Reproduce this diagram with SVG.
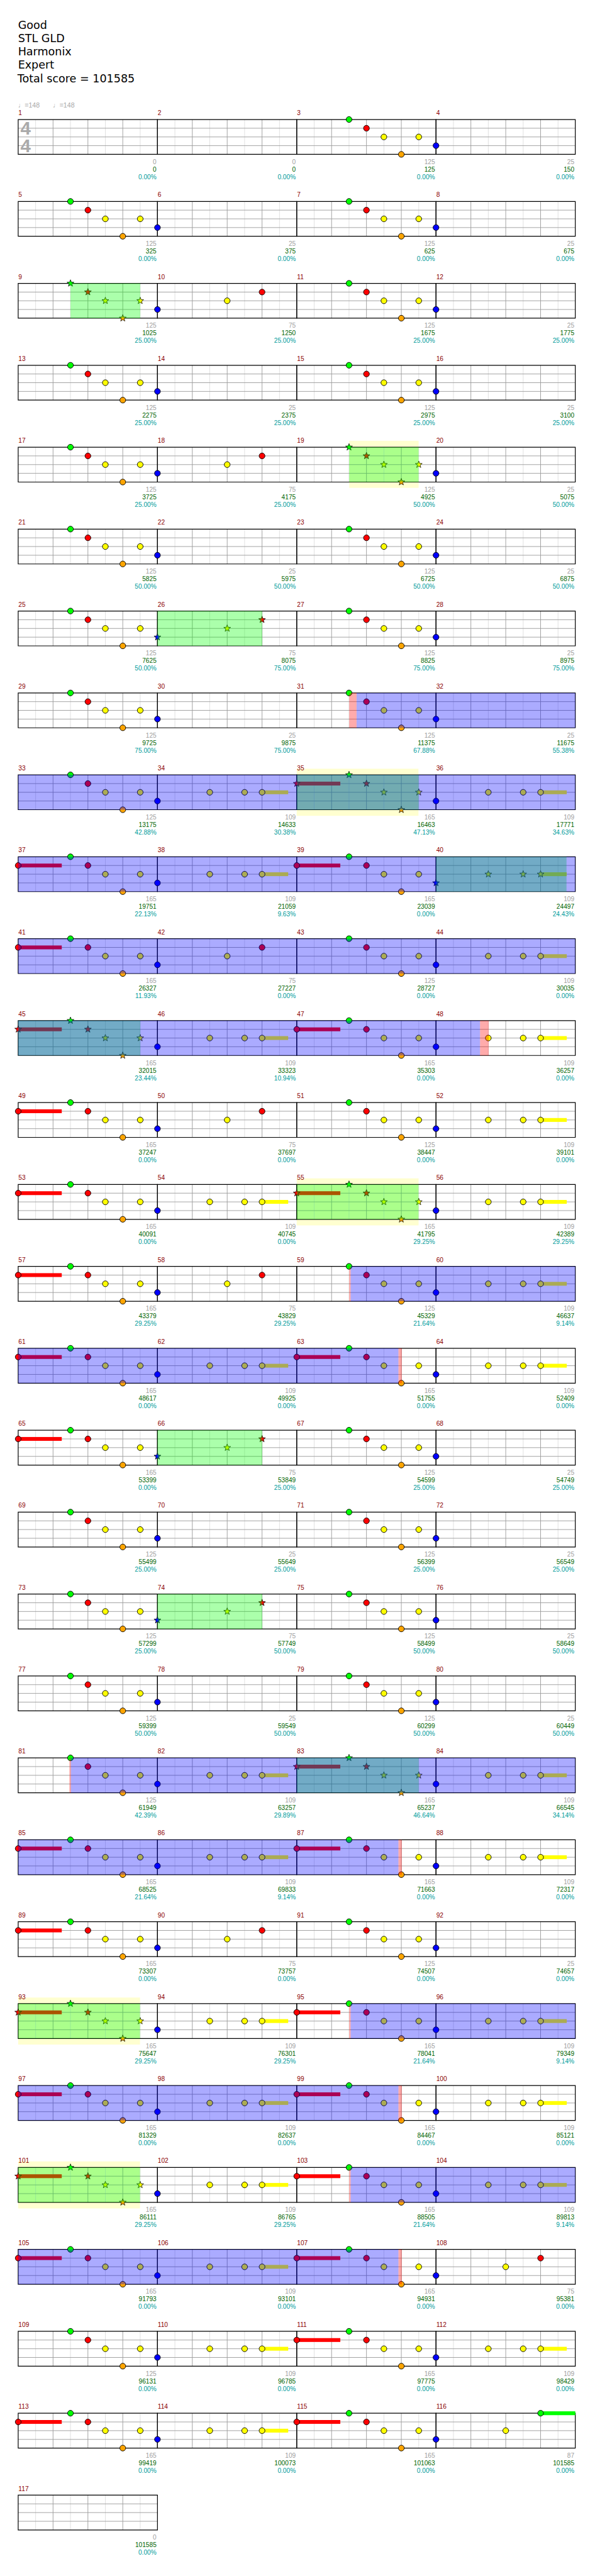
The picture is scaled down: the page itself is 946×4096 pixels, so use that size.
<svg xmlns="http://www.w3.org/2000/svg" width="946" height="4096" viewBox="0 0 946 4096">
<style>
text{font-family:"Liberation Sans",Arial,"DejaVu Sans",sans-serif}
.t{font-family:"DejaVu Sans",sans-serif;font-size:19px;fill:#000}
.tm{font-size:11.5px;fill:#a8a8a8}
.n{font-size:11px;fill:#8b0000}
.a{font-size:11px;fill:#a0a0a0;text-anchor:end}
.b{font-size:11px;fill:#006400;text-anchor:end}
.p{font-size:11px;fill:#009c9c;text-anchor:end}
.G{fill:#00ff00}.R{fill:#ff0000}.Y{fill:#ffff00}.B{fill:#0000ff}.O{fill:#ffa500}
.ov{fill:#0000ff;fill-opacity:.33}
.sp{fill:#00ff00;fill-opacity:.33}
.pk{fill:#ff0000;fill-opacity:.33}
.yb{fill:#ffffd0}
</style>
<defs>
<g id="grid">
<path d="M30 0V60M90 0V60M150 0V60M210 0V60" stroke="#dedede"/>
<path d="M60 0V60M120 0V60M180 0V60M0 15H239.7M0 30H239.7M0 45H239.7" stroke="#9c9c9c"/>
<path d="M0 0H239.7V60H0Z" fill="none" stroke="#000" stroke-width="1.3"/>
</g>
<circle id="c" r="5" stroke="#000"/>
<path id="s" d="M0 -6.2L1.5 -2.1L5.9 -1.9L2.4 0.8L3.6 5L0 2.6L-3.6 5L-2.4 0.8L-5.9 -1.9L-1.5 -2.1Z" stroke="#000" stroke-width=".8"/>
<g id="pA"><use href="#c" class="G" x="90"/><use href="#c" class="R" x="120" y="15"/><use href="#c" class="Y" x="150" y="30"/><use href="#c" class="O" x="180" y="60"/><use href="#c" class="Y" x="210" y="30"/></g>
<g id="pAs"><use href="#s" class="G" x="90"/><use href="#s" class="R" x="120" y="15"/><use href="#s" class="Y" x="150" y="30"/><use href="#s" class="O" x="180" y="60"/><use href="#s" class="Y" x="210" y="30"/></g>
<g id="pB"><use href="#c" class="B" y="45"/></g>
<g id="pBY"><use href="#c" class="B" y="45"/><use href="#c" class="Y" x="90" y="30"/><use href="#c" class="Y" x="150" y="30"/><rect class="Y" x="180" y="26.7" width="45" height="6.6"/><use href="#c" class="Y" x="180" y="30"/></g>
<g id="pRA"><rect class="R" y="11.7" width="75" height="6.6"/><use href="#c" class="R" y="15"/><use href="#pA"/></g>
<g id="pRAs"><rect class="R" y="11.7" width="75" height="6.6"/><use href="#s" class="R" y="15"/><use href="#pAs"/></g>
<g id="pBYR"><use href="#c" class="B" y="45"/><use href="#c" class="Y" x="120" y="30"/><use href="#c" class="R" x="180" y="15"/></g>
<g id="pBYRs"><use href="#s" class="B" y="45"/><use href="#s" class="Y" x="120" y="30"/><use href="#s" class="R" x="180" y="15"/></g>
<g id="pYs"><use href="#s" class="B" y="45"/><use href="#s" class="Y" x="90" y="30"/><use href="#s" class="Y" x="150" y="30"/><rect class="Y" x="180" y="26.7" width="45" height="6.6"/><use href="#s" class="Y" x="180" y="30"/></g>
</defs>
<rect width="946" height="4096" fill="#fff"/>
<g transform="scale(0.9238)">
<g id="header">
<text class="t" x="31" y="49.3">Good</text>
<text class="t" x="31" y="72.3">STL GLD</text>
<text class="t" x="31" y="95.3">Harmonix</text>
<text class="t" x="31" y="118.3">Expert</text>
<text class="t" x="30" y="141.3">Total score = 101585</text>
<text class="tm" x="31" y="185">♩=148</text>
<text class="tm" x="91" y="185">♩=148</text>
</g>

<g id="row0">
<g id="m1" transform="translate(31.3 205.7)"><use href="#grid"/><text x="4" y="26.3" font-size="32" font-weight="bold" fill="#aaa">4</text><text x="4" y="56.3" font-size="32" font-weight="bold" fill="#aaa">4</text><text class="n" x=".5" y="-7.5">1</text><text class="a" x="238" y="76.6">0</text><text class="b" x="238" y="89.6">0</text><text class="p" x="238" y="102.6">0.00%</text></g>
<g id="m2" transform="translate(271 205.7)"><use href="#grid"/><text class="n" x=".5" y="-7.5">2</text><text class="a" x="238" y="76.6">0</text><text class="b" x="238" y="89.6">0</text><text class="p" x="238" y="102.6">0.00%</text></g>
<g id="m3" transform="translate(510.7 205.7)"><use href="#grid"/><use href="#pA"/><text class="n" x=".5" y="-7.5">3</text><text class="a" x="238" y="76.6">125</text><text class="b" x="238" y="89.6">125</text><text class="p" x="238" y="102.6">0.00%</text></g>
<g id="m4" transform="translate(750.4 205.7)"><use href="#grid"/><use href="#pB"/><text class="n" x=".5" y="-7.5">4</text><text class="a" x="238" y="76.6">25</text><text class="b" x="238" y="89.6">150</text><text class="p" x="238" y="102.6">0.00%</text></g>
</g>

<g id="row1">
<g id="m5" transform="translate(31.3 346.7)"><use href="#grid"/><use href="#pA"/><text class="n" x=".5" y="-7.5">5</text><text class="a" x="238" y="76.6">125</text><text class="b" x="238" y="89.6">325</text><text class="p" x="238" y="102.6">0.00%</text></g>
<g id="m6" transform="translate(271 346.7)"><use href="#grid"/><use href="#pB"/><text class="n" x=".5" y="-7.5">6</text><text class="a" x="238" y="76.6">25</text><text class="b" x="238" y="89.6">375</text><text class="p" x="238" y="102.6">0.00%</text></g>
<g id="m7" transform="translate(510.7 346.7)"><use href="#grid"/><use href="#pA"/><text class="n" x=".5" y="-7.5">7</text><text class="a" x="238" y="76.6">125</text><text class="b" x="238" y="89.6">625</text><text class="p" x="238" y="102.6">0.00%</text></g>
<g id="m8" transform="translate(750.4 346.7)"><use href="#grid"/><use href="#pB"/><text class="n" x=".5" y="-7.5">8</text><text class="a" x="238" y="76.6">25</text><text class="b" x="238" y="89.6">675</text><text class="p" x="238" y="102.6">0.00%</text></g>
</g>

<g id="row2">
<g id="m9" transform="translate(31.3 487.7)"><use href="#grid"/><use href="#pAs"/><text class="n" x=".5" y="-7.5">9</text><text class="a" x="238" y="76.6">125</text><text class="b" x="238" y="89.6">1025</text><text class="p" x="238" y="102.6">25.00%</text></g>
<g id="m10" transform="translate(271 487.7)"><use href="#grid"/><use href="#pBYR"/><text class="n" x=".5" y="-7.5">10</text><text class="a" x="238" y="76.6">75</text><text class="b" x="238" y="89.6">1250</text><text class="p" x="238" y="102.6">25.00%</text></g>
<g id="m11" transform="translate(510.7 487.7)"><use href="#grid"/><use href="#pA"/><text class="n" x=".5" y="-7.5">11</text><text class="a" x="238" y="76.6">125</text><text class="b" x="238" y="89.6">1675</text><text class="p" x="238" y="102.6">25.00%</text></g>
<g id="m12" transform="translate(750.4 487.7)"><use href="#grid"/><use href="#pB"/><text class="n" x=".5" y="-7.5">12</text><text class="a" x="238" y="76.6">25</text><text class="b" x="238" y="89.6">1775</text><text class="p" x="238" y="102.6">25.00%</text></g>
<rect class="sp" x="121.3" y="487.7" width="120" height="60"/>
</g>

<g id="row3">
<g id="m13" transform="translate(31.3 628.7)"><use href="#grid"/><use href="#pA"/><text class="n" x=".5" y="-7.5">13</text><text class="a" x="238" y="76.6">125</text><text class="b" x="238" y="89.6">2275</text><text class="p" x="238" y="102.6">25.00%</text></g>
<g id="m14" transform="translate(271 628.7)"><use href="#grid"/><use href="#pB"/><text class="n" x=".5" y="-7.5">14</text><text class="a" x="238" y="76.6">25</text><text class="b" x="238" y="89.6">2375</text><text class="p" x="238" y="102.6">25.00%</text></g>
<g id="m15" transform="translate(510.7 628.7)"><use href="#grid"/><use href="#pA"/><text class="n" x=".5" y="-7.5">15</text><text class="a" x="238" y="76.6">125</text><text class="b" x="238" y="89.6">2975</text><text class="p" x="238" y="102.6">25.00%</text></g>
<g id="m16" transform="translate(750.4 628.7)"><use href="#grid"/><use href="#pB"/><text class="n" x=".5" y="-7.5">16</text><text class="a" x="238" y="76.6">25</text><text class="b" x="238" y="89.6">3100</text><text class="p" x="238" y="102.6">25.00%</text></g>
</g>

<g id="row4">
<rect class="yb" x="601" y="758.7" width="119.5" height="81"/>
<g id="m17" transform="translate(31.3 769.7)"><use href="#grid"/><use href="#pA"/><text class="n" x=".5" y="-7.5">17</text><text class="a" x="238" y="76.6">125</text><text class="b" x="238" y="89.6">3725</text><text class="p" x="238" y="102.6">25.00%</text></g>
<g id="m18" transform="translate(271 769.7)"><use href="#grid"/><use href="#pBYR"/><text class="n" x=".5" y="-7.5">18</text><text class="a" x="238" y="76.6">75</text><text class="b" x="238" y="89.6">4175</text><text class="p" x="238" y="102.6">25.00%</text></g>
<g id="m19" transform="translate(510.7 769.7)"><use href="#grid"/><use href="#pAs"/><text class="n" x=".5" y="-7.5">19</text><text class="a" x="238" y="76.6">125</text><text class="b" x="238" y="89.6">4925</text><text class="p" x="238" y="102.6">50.00%</text></g>
<g id="m20" transform="translate(750.4 769.7)"><use href="#grid"/><use href="#pB"/><text class="n" x=".5" y="-7.5">20</text><text class="a" x="238" y="76.6">25</text><text class="b" x="238" y="89.6">5075</text><text class="p" x="238" y="102.6">50.00%</text></g>
<rect class="sp" x="601" y="769.7" width="119.5" height="60"/>
</g>

<g id="row5">
<g id="m21" transform="translate(31.3 910.7)"><use href="#grid"/><use href="#pA"/><text class="n" x=".5" y="-7.5">21</text><text class="a" x="238" y="76.6">125</text><text class="b" x="238" y="89.6">5825</text><text class="p" x="238" y="102.6">50.00%</text></g>
<g id="m22" transform="translate(271 910.7)"><use href="#grid"/><use href="#pB"/><text class="n" x=".5" y="-7.5">22</text><text class="a" x="238" y="76.6">25</text><text class="b" x="238" y="89.6">5975</text><text class="p" x="238" y="102.6">50.00%</text></g>
<g id="m23" transform="translate(510.7 910.7)"><use href="#grid"/><use href="#pA"/><text class="n" x=".5" y="-7.5">23</text><text class="a" x="238" y="76.6">125</text><text class="b" x="238" y="89.6">6725</text><text class="p" x="238" y="102.6">50.00%</text></g>
<g id="m24" transform="translate(750.4 910.7)"><use href="#grid"/><use href="#pB"/><text class="n" x=".5" y="-7.5">24</text><text class="a" x="238" y="76.6">25</text><text class="b" x="238" y="89.6">6875</text><text class="p" x="238" y="102.6">50.00%</text></g>
</g>

<g id="row6">
<g id="m25" transform="translate(31.3 1051.7)"><use href="#grid"/><use href="#pA"/><text class="n" x=".5" y="-7.5">25</text><text class="a" x="238" y="76.6">125</text><text class="b" x="238" y="89.6">7625</text><text class="p" x="238" y="102.6">50.00%</text></g>
<g id="m26" transform="translate(271 1051.7)"><use href="#grid"/><use href="#pBYRs"/><text class="n" x=".5" y="-7.5">26</text><text class="a" x="238" y="76.6">75</text><text class="b" x="238" y="89.6">8075</text><text class="p" x="238" y="102.6">75.00%</text></g>
<g id="m27" transform="translate(510.7 1051.7)"><use href="#grid"/><use href="#pA"/><text class="n" x=".5" y="-7.5">27</text><text class="a" x="238" y="76.6">125</text><text class="b" x="238" y="89.6">8825</text><text class="p" x="238" y="102.6">75.00%</text></g>
<g id="m28" transform="translate(750.4 1051.7)"><use href="#grid"/><use href="#pB"/><text class="n" x=".5" y="-7.5">28</text><text class="a" x="238" y="76.6">25</text><text class="b" x="238" y="89.6">8975</text><text class="p" x="238" y="102.6">75.00%</text></g>
<rect class="sp" x="271" y="1051.7" width="180.3" height="60"/>
</g>

<g id="row7">
<g id="m29" transform="translate(31.3 1192.7)"><use href="#grid"/><use href="#pA"/><text class="n" x=".5" y="-7.5">29</text><text class="a" x="238" y="76.6">125</text><text class="b" x="238" y="89.6">9725</text><text class="p" x="238" y="102.6">75.00%</text></g>
<g id="m30" transform="translate(271 1192.7)"><use href="#grid"/><use href="#pB"/><text class="n" x=".5" y="-7.5">30</text><text class="a" x="238" y="76.6">25</text><text class="b" x="238" y="89.6">9875</text><text class="p" x="238" y="102.6">75.00%</text></g>
<g id="m31" transform="translate(510.7 1192.7)"><use href="#grid"/><use href="#pA"/><text class="n" x=".5" y="-7.5">31</text><text class="a" x="238" y="76.6">125</text><text class="b" x="238" y="89.6">11375</text><text class="p" x="238" y="102.6">67.88%</text></g>
<g id="m32" transform="translate(750.4 1192.7)"><use href="#grid"/><use href="#pB"/><text class="n" x=".5" y="-7.5">32</text><text class="a" x="238" y="76.6">25</text><text class="b" x="238" y="89.6">11675</text><text class="p" x="238" y="102.6">55.38%</text></g>
<rect class="pk" x="601" y="1192.7" width="12.7" height="60"/>
<rect class="ov" x="613.7" y="1192.7" width="376.4" height="60"/>
</g>

<g id="row8">
<rect class="yb" x="510.7" y="1323.2" width="209.5" height="81"/>
<g id="m33" transform="translate(31.3 1333.7)"><use href="#grid"/><use href="#pA"/><text class="n" x=".5" y="-7.5">33</text><text class="a" x="238" y="76.6">125</text><text class="b" x="238" y="89.6">13175</text><text class="p" x="238" y="102.6">42.88%</text></g>
<g id="m34" transform="translate(271 1333.7)"><use href="#grid"/><use href="#pBY"/><text class="n" x=".5" y="-7.5">34</text><text class="a" x="238" y="76.6">109</text><text class="b" x="238" y="89.6">14633</text><text class="p" x="238" y="102.6">30.38%</text></g>
<g id="m35" transform="translate(510.7 1333.7)"><use href="#grid"/><use href="#pRAs"/><text class="n" x=".5" y="-7.5">35</text><text class="a" x="238" y="76.6">165</text><text class="b" x="238" y="89.6">16463</text><text class="p" x="238" y="102.6">47.13%</text></g>
<g id="m36" transform="translate(750.4 1333.7)"><use href="#grid"/><use href="#pBY"/><text class="n" x=".5" y="-7.5">36</text><text class="a" x="238" y="76.6">109</text><text class="b" x="238" y="89.6">17771</text><text class="p" x="238" y="102.6">34.63%</text></g>
<rect class="sp" x="510.7" y="1333.7" width="210" height="60"/>
<rect class="ov" x="31.3" y="1333.7" width="958.8" height="60"/>
</g>

<g id="row9">
<g id="m37" transform="translate(31.3 1474.7)"><use href="#grid"/><use href="#pRA"/><text class="n" x=".5" y="-7.5">37</text><text class="a" x="238" y="76.6">165</text><text class="b" x="238" y="89.6">19751</text><text class="p" x="238" y="102.6">22.13%</text></g>
<g id="m38" transform="translate(271 1474.7)"><use href="#grid"/><use href="#pBY"/><text class="n" x=".5" y="-7.5">38</text><text class="a" x="238" y="76.6">109</text><text class="b" x="238" y="89.6">21059</text><text class="p" x="238" y="102.6">9.63%</text></g>
<g id="m39" transform="translate(510.7 1474.7)"><use href="#grid"/><use href="#pRA"/><text class="n" x=".5" y="-7.5">39</text><text class="a" x="238" y="76.6">165</text><text class="b" x="238" y="89.6">23039</text><text class="p" x="238" y="102.6">0.00%</text></g>
<g id="m40" transform="translate(750.4 1474.7)"><use href="#grid"/><use href="#pYs"/><text class="n" x=".5" y="-7.5">40</text><text class="a" x="238" y="76.6">109</text><text class="b" x="238" y="89.6">24497</text><text class="p" x="238" y="102.6">24.43%</text></g>
<rect class="sp" x="750.4" y="1474.7" width="224.6" height="60"/>
<rect class="ov" x="31.3" y="1474.7" width="958.8" height="60"/>
</g>

<g id="row10">
<g id="m41" transform="translate(31.3 1615.7)"><use href="#grid"/><use href="#pRA"/><text class="n" x=".5" y="-7.5">41</text><text class="a" x="238" y="76.6">165</text><text class="b" x="238" y="89.6">26327</text><text class="p" x="238" y="102.6">11.93%</text></g>
<g id="m42" transform="translate(271 1615.7)"><use href="#grid"/><use href="#pBYR"/><text class="n" x=".5" y="-7.5">42</text><text class="a" x="238" y="76.6">75</text><text class="b" x="238" y="89.6">27227</text><text class="p" x="238" y="102.6">0.00%</text></g>
<g id="m43" transform="translate(510.7 1615.7)"><use href="#grid"/><use href="#pA"/><text class="n" x=".5" y="-7.5">43</text><text class="a" x="238" y="76.6">125</text><text class="b" x="238" y="89.6">28727</text><text class="p" x="238" y="102.6">0.00%</text></g>
<g id="m44" transform="translate(750.4 1615.7)"><use href="#grid"/><use href="#pBY"/><text class="n" x=".5" y="-7.5">44</text><text class="a" x="238" y="76.6">109</text><text class="b" x="238" y="89.6">30035</text><text class="p" x="238" y="102.6">0.00%</text></g>
<rect class="ov" x="31.3" y="1615.7" width="958.8" height="60"/>
</g>

<g id="row11">
<g id="m45" transform="translate(31.3 1756.7)"><use href="#grid"/><use href="#pRAs"/><text class="n" x=".5" y="-7.5">45</text><text class="a" x="238" y="76.6">165</text><text class="b" x="238" y="89.6">32015</text><text class="p" x="238" y="102.6">23.44%</text></g>
<g id="m46" transform="translate(271 1756.7)"><use href="#grid"/><use href="#pBY"/><text class="n" x=".5" y="-7.5">46</text><text class="a" x="238" y="76.6">109</text><text class="b" x="238" y="89.6">33323</text><text class="p" x="238" y="102.6">10.94%</text></g>
<g id="m47" transform="translate(510.7 1756.7)"><use href="#grid"/><use href="#pRA"/><text class="n" x=".5" y="-7.5">47</text><text class="a" x="238" y="76.6">165</text><text class="b" x="238" y="89.6">35303</text><text class="p" x="238" y="102.6">0.00%</text></g>
<g id="m48" transform="translate(750.4 1756.7)"><use href="#grid"/><use href="#pBY"/><text class="n" x=".5" y="-7.5">48</text><text class="a" x="238" y="76.6">109</text><text class="b" x="238" y="89.6">36257</text><text class="p" x="238" y="102.6">0.00%</text></g>
<rect class="sp" x="31.3" y="1756.7" width="210.2" height="60"/>
<rect class="ov" x="31.3" y="1756.7" width="794.9" height="60"/>
<rect class="pk" x="826.2" y="1756.7" width="15" height="60"/>
</g>

<g id="row12">
<g id="m49" transform="translate(31.3 1897.7)"><use href="#grid"/><use href="#pRA"/><text class="n" x=".5" y="-7.5">49</text><text class="a" x="238" y="76.6">165</text><text class="b" x="238" y="89.6">37247</text><text class="p" x="238" y="102.6">0.00%</text></g>
<g id="m50" transform="translate(271 1897.7)"><use href="#grid"/><use href="#pBYR"/><text class="n" x=".5" y="-7.5">50</text><text class="a" x="238" y="76.6">75</text><text class="b" x="238" y="89.6">37697</text><text class="p" x="238" y="102.6">0.00%</text></g>
<g id="m51" transform="translate(510.7 1897.7)"><use href="#grid"/><use href="#pA"/><text class="n" x=".5" y="-7.5">51</text><text class="a" x="238" y="76.6">125</text><text class="b" x="238" y="89.6">38447</text><text class="p" x="238" y="102.6">0.00%</text></g>
<g id="m52" transform="translate(750.4 1897.7)"><use href="#grid"/><use href="#pBY"/><text class="n" x=".5" y="-7.5">52</text><text class="a" x="238" y="76.6">109</text><text class="b" x="238" y="89.6">39101</text><text class="p" x="238" y="102.6">0.00%</text></g>
</g>

<g id="row13">
<rect class="yb" x="510.7" y="2028.2" width="209.7" height="81"/>
<g id="m53" transform="translate(31.3 2038.7)"><use href="#grid"/><use href="#pRA"/><text class="n" x=".5" y="-7.5">53</text><text class="a" x="238" y="76.6">165</text><text class="b" x="238" y="89.6">40091</text><text class="p" x="238" y="102.6">0.00%</text></g>
<g id="m54" transform="translate(271 2038.7)"><use href="#grid"/><use href="#pBY"/><text class="n" x=".5" y="-7.5">54</text><text class="a" x="238" y="76.6">109</text><text class="b" x="238" y="89.6">40745</text><text class="p" x="238" y="102.6">0.00%</text></g>
<g id="m55" transform="translate(510.7 2038.7)"><use href="#grid"/><use href="#pRAs"/><text class="n" x=".5" y="-7.5">55</text><text class="a" x="238" y="76.6">165</text><text class="b" x="238" y="89.6">41795</text><text class="p" x="238" y="102.6">29.25%</text></g>
<g id="m56" transform="translate(750.4 2038.7)"><use href="#grid"/><use href="#pBY"/><text class="n" x=".5" y="-7.5">56</text><text class="a" x="238" y="76.6">109</text><text class="b" x="238" y="89.6">42389</text><text class="p" x="238" y="102.6">29.25%</text></g>
<rect class="sp" x="510.7" y="2038.7" width="209.7" height="60"/>
</g>

<g id="row14">
<g id="m57" transform="translate(31.3 2179.7)"><use href="#grid"/><use href="#pRA"/><text class="n" x=".5" y="-7.5">57</text><text class="a" x="238" y="76.6">165</text><text class="b" x="238" y="89.6">43379</text><text class="p" x="238" y="102.6">29.25%</text></g>
<g id="m58" transform="translate(271 2179.7)"><use href="#grid"/><use href="#pBYR"/><text class="n" x=".5" y="-7.5">58</text><text class="a" x="238" y="76.6">75</text><text class="b" x="238" y="89.6">43829</text><text class="p" x="238" y="102.6">29.25%</text></g>
<g id="m59" transform="translate(510.7 2179.7)"><use href="#grid"/><use href="#pA"/><text class="n" x=".5" y="-7.5">59</text><text class="a" x="238" y="76.6">125</text><text class="b" x="238" y="89.6">45329</text><text class="p" x="238" y="102.6">21.64%</text></g>
<g id="m60" transform="translate(750.4 2179.7)"><use href="#grid"/><use href="#pBY"/><text class="n" x=".5" y="-7.5">60</text><text class="a" x="238" y="76.6">109</text><text class="b" x="238" y="89.6">46637</text><text class="p" x="238" y="102.6">9.14%</text></g>
<rect class="pk" x="601" y="2179.7" width="2.5" height="60"/>
<rect class="ov" x="603.5" y="2179.7" width="386.6" height="60"/>
</g>

<g id="row15">
<g id="m61" transform="translate(31.3 2320.7)"><use href="#grid"/><use href="#pRA"/><text class="n" x=".5" y="-7.5">61</text><text class="a" x="238" y="76.6">165</text><text class="b" x="238" y="89.6">48617</text><text class="p" x="238" y="102.6">0.00%</text></g>
<g id="m62" transform="translate(271 2320.7)"><use href="#grid"/><use href="#pBY"/><text class="n" x=".5" y="-7.5">62</text><text class="a" x="238" y="76.6">109</text><text class="b" x="238" y="89.6">49925</text><text class="p" x="238" y="102.6">0.00%</text></g>
<g id="m63" transform="translate(510.7 2320.7)"><use href="#grid"/><use href="#pRA"/><text class="n" x=".5" y="-7.5">63</text><text class="a" x="238" y="76.6">165</text><text class="b" x="238" y="89.6">51755</text><text class="p" x="238" y="102.6">0.00%</text></g>
<g id="m64" transform="translate(750.4 2320.7)"><use href="#grid"/><use href="#pBY"/><text class="n" x=".5" y="-7.5">64</text><text class="a" x="238" y="76.6">109</text><text class="b" x="238" y="89.6">52409</text><text class="p" x="238" y="102.6">0.00%</text></g>
<rect class="ov" x="31.3" y="2320.7" width="654.5" height="60"/>
<rect class="pk" x="685.8" y="2320.7" width="5.9" height="60"/>
</g>

<g id="row16">
<g id="m65" transform="translate(31.3 2461.7)"><use href="#grid"/><use href="#pRA"/><text class="n" x=".5" y="-7.5">65</text><text class="a" x="238" y="76.6">165</text><text class="b" x="238" y="89.6">53399</text><text class="p" x="238" y="102.6">0.00%</text></g>
<g id="m66" transform="translate(271 2461.7)"><use href="#grid"/><use href="#pBYRs"/><text class="n" x=".5" y="-7.5">66</text><text class="a" x="238" y="76.6">75</text><text class="b" x="238" y="89.6">53849</text><text class="p" x="238" y="102.6">25.00%</text></g>
<g id="m67" transform="translate(510.7 2461.7)"><use href="#grid"/><use href="#pA"/><text class="n" x=".5" y="-7.5">67</text><text class="a" x="238" y="76.6">125</text><text class="b" x="238" y="89.6">54599</text><text class="p" x="238" y="102.6">25.00%</text></g>
<g id="m68" transform="translate(750.4 2461.7)"><use href="#grid"/><use href="#pB"/><text class="n" x=".5" y="-7.5">68</text><text class="a" x="238" y="76.6">25</text><text class="b" x="238" y="89.6">54749</text><text class="p" x="238" y="102.6">25.00%</text></g>
<rect class="sp" x="271" y="2461.7" width="180.3" height="60"/>
</g>

<g id="row17">
<g id="m69" transform="translate(31.3 2602.7)"><use href="#grid"/><use href="#pA"/><text class="n" x=".5" y="-7.5">69</text><text class="a" x="238" y="76.6">125</text><text class="b" x="238" y="89.6">55499</text><text class="p" x="238" y="102.6">25.00%</text></g>
<g id="m70" transform="translate(271 2602.7)"><use href="#grid"/><use href="#pB"/><text class="n" x=".5" y="-7.5">70</text><text class="a" x="238" y="76.6">25</text><text class="b" x="238" y="89.6">55649</text><text class="p" x="238" y="102.6">25.00%</text></g>
<g id="m71" transform="translate(510.7 2602.7)"><use href="#grid"/><use href="#pA"/><text class="n" x=".5" y="-7.5">71</text><text class="a" x="238" y="76.6">125</text><text class="b" x="238" y="89.6">56399</text><text class="p" x="238" y="102.6">25.00%</text></g>
<g id="m72" transform="translate(750.4 2602.7)"><use href="#grid"/><use href="#pB"/><text class="n" x=".5" y="-7.5">72</text><text class="a" x="238" y="76.6">25</text><text class="b" x="238" y="89.6">56549</text><text class="p" x="238" y="102.6">25.00%</text></g>
</g>

<g id="row18">
<g id="m73" transform="translate(31.3 2743.7)"><use href="#grid"/><use href="#pA"/><text class="n" x=".5" y="-7.5">73</text><text class="a" x="238" y="76.6">125</text><text class="b" x="238" y="89.6">57299</text><text class="p" x="238" y="102.6">25.00%</text></g>
<g id="m74" transform="translate(271 2743.7)"><use href="#grid"/><use href="#pBYRs"/><text class="n" x=".5" y="-7.5">74</text><text class="a" x="238" y="76.6">75</text><text class="b" x="238" y="89.6">57749</text><text class="p" x="238" y="102.6">50.00%</text></g>
<g id="m75" transform="translate(510.7 2743.7)"><use href="#grid"/><use href="#pA"/><text class="n" x=".5" y="-7.5">75</text><text class="a" x="238" y="76.6">125</text><text class="b" x="238" y="89.6">58499</text><text class="p" x="238" y="102.6">50.00%</text></g>
<g id="m76" transform="translate(750.4 2743.7)"><use href="#grid"/><use href="#pB"/><text class="n" x=".5" y="-7.5">76</text><text class="a" x="238" y="76.6">25</text><text class="b" x="238" y="89.6">58649</text><text class="p" x="238" y="102.6">50.00%</text></g>
<rect class="sp" x="271" y="2743.7" width="180.3" height="60"/>
</g>

<g id="row19">
<g id="m77" transform="translate(31.3 2884.7)"><use href="#grid"/><use href="#pA"/><text class="n" x=".5" y="-7.5">77</text><text class="a" x="238" y="76.6">125</text><text class="b" x="238" y="89.6">59399</text><text class="p" x="238" y="102.6">50.00%</text></g>
<g id="m78" transform="translate(271 2884.7)"><use href="#grid"/><use href="#pB"/><text class="n" x=".5" y="-7.5">78</text><text class="a" x="238" y="76.6">25</text><text class="b" x="238" y="89.6">59549</text><text class="p" x="238" y="102.6">50.00%</text></g>
<g id="m79" transform="translate(510.7 2884.7)"><use href="#grid"/><use href="#pA"/><text class="n" x=".5" y="-7.5">79</text><text class="a" x="238" y="76.6">125</text><text class="b" x="238" y="89.6">60299</text><text class="p" x="238" y="102.6">50.00%</text></g>
<g id="m80" transform="translate(750.4 2884.7)"><use href="#grid"/><use href="#pB"/><text class="n" x=".5" y="-7.5">80</text><text class="a" x="238" y="76.6">25</text><text class="b" x="238" y="89.6">60449</text><text class="p" x="238" y="102.6">50.00%</text></g>
</g>

<g id="row20">
<g id="m81" transform="translate(31.3 3025.7)"><use href="#grid"/><use href="#pA"/><text class="n" x=".5" y="-7.5">81</text><text class="a" x="238" y="76.6">125</text><text class="b" x="238" y="89.6">61949</text><text class="p" x="238" y="102.6">42.39%</text></g>
<g id="m82" transform="translate(271 3025.7)"><use href="#grid"/><use href="#pBY"/><text class="n" x=".5" y="-7.5">82</text><text class="a" x="238" y="76.6">109</text><text class="b" x="238" y="89.6">63257</text><text class="p" x="238" y="102.6">29.89%</text></g>
<g id="m83" transform="translate(510.7 3025.7)"><use href="#grid"/><use href="#pRAs"/><text class="n" x=".5" y="-7.5">83</text><text class="a" x="238" y="76.6">165</text><text class="b" x="238" y="89.6">65237</text><text class="p" x="238" y="102.6">46.64%</text></g>
<g id="m84" transform="translate(750.4 3025.7)"><use href="#grid"/><use href="#pBY"/><text class="n" x=".5" y="-7.5">84</text><text class="a" x="238" y="76.6">109</text><text class="b" x="238" y="89.6">66545</text><text class="p" x="238" y="102.6">34.14%</text></g>
<rect class="sp" x="510.7" y="3025.7" width="210" height="60"/>
<rect class="pk" x="119.5" y="3025.7" width="2.5" height="60"/>
<rect class="ov" x="122" y="3025.7" width="868.1" height="60"/>
</g>

<g id="row21">
<g id="m85" transform="translate(31.3 3166.7)"><use href="#grid"/><use href="#pRA"/><text class="n" x=".5" y="-7.5">85</text><text class="a" x="238" y="76.6">165</text><text class="b" x="238" y="89.6">68525</text><text class="p" x="238" y="102.6">21.64%</text></g>
<g id="m86" transform="translate(271 3166.7)"><use href="#grid"/><use href="#pBY"/><text class="n" x=".5" y="-7.5">86</text><text class="a" x="238" y="76.6">109</text><text class="b" x="238" y="89.6">69833</text><text class="p" x="238" y="102.6">9.14%</text></g>
<g id="m87" transform="translate(510.7 3166.7)"><use href="#grid"/><use href="#pRA"/><text class="n" x=".5" y="-7.5">87</text><text class="a" x="238" y="76.6">165</text><text class="b" x="238" y="89.6">71663</text><text class="p" x="238" y="102.6">0.00%</text></g>
<g id="m88" transform="translate(750.4 3166.7)"><use href="#grid"/><use href="#pBY"/><text class="n" x=".5" y="-7.5">88</text><text class="a" x="238" y="76.6">109</text><text class="b" x="238" y="89.6">72317</text><text class="p" x="238" y="102.6">0.00%</text></g>
<rect class="ov" x="31.3" y="3166.7" width="654.5" height="60"/>
<rect class="pk" x="685.8" y="3166.7" width="5.9" height="60"/>
</g>

<g id="row22">
<g id="m89" transform="translate(31.3 3307.7)"><use href="#grid"/><use href="#pRA"/><text class="n" x=".5" y="-7.5">89</text><text class="a" x="238" y="76.6">165</text><text class="b" x="238" y="89.6">73307</text><text class="p" x="238" y="102.6">0.00%</text></g>
<g id="m90" transform="translate(271 3307.7)"><use href="#grid"/><use href="#pBYR"/><text class="n" x=".5" y="-7.5">90</text><text class="a" x="238" y="76.6">75</text><text class="b" x="238" y="89.6">73757</text><text class="p" x="238" y="102.6">0.00%</text></g>
<g id="m91" transform="translate(510.7 3307.7)"><use href="#grid"/><use href="#pA"/><text class="n" x=".5" y="-7.5">91</text><text class="a" x="238" y="76.6">125</text><text class="b" x="238" y="89.6">74507</text><text class="p" x="238" y="102.6">0.00%</text></g>
<g id="m92" transform="translate(750.4 3307.7)"><use href="#grid"/><use href="#pB"/><text class="n" x=".5" y="-7.5">92</text><text class="a" x="238" y="76.6">25</text><text class="b" x="238" y="89.6">74657</text><text class="p" x="238" y="102.6">0.00%</text></g>
</g>

<g id="row23">
<rect class="yb" x="31.3" y="3438.2" width="209.7" height="81"/>
<g id="m93" transform="translate(31.3 3448.7)"><use href="#grid"/><use href="#pRAs"/><text class="n" x=".5" y="-7.5">93</text><text class="a" x="238" y="76.6">165</text><text class="b" x="238" y="89.6">75647</text><text class="p" x="238" y="102.6">29.25%</text></g>
<g id="m94" transform="translate(271 3448.7)"><use href="#grid"/><use href="#pBY"/><text class="n" x=".5" y="-7.5">94</text><text class="a" x="238" y="76.6">109</text><text class="b" x="238" y="89.6">76301</text><text class="p" x="238" y="102.6">29.25%</text></g>
<g id="m95" transform="translate(510.7 3448.7)"><use href="#grid"/><use href="#pRA"/><text class="n" x=".5" y="-7.5">95</text><text class="a" x="238" y="76.6">165</text><text class="b" x="238" y="89.6">78041</text><text class="p" x="238" y="102.6">21.64%</text></g>
<g id="m96" transform="translate(750.4 3448.7)"><use href="#grid"/><use href="#pBY"/><text class="n" x=".5" y="-7.5">96</text><text class="a" x="238" y="76.6">109</text><text class="b" x="238" y="89.6">79349</text><text class="p" x="238" y="102.6">9.14%</text></g>
<rect class="sp" x="31.3" y="3448.7" width="209.7" height="60"/>
<rect class="pk" x="601" y="3448.7" width="2.5" height="60"/>
<rect class="ov" x="603.5" y="3448.7" width="386.6" height="60"/>
</g>

<g id="row24">
<g id="m97" transform="translate(31.3 3589.7)"><use href="#grid"/><use href="#pRA"/><text class="n" x=".5" y="-7.5">97</text><text class="a" x="238" y="76.6">165</text><text class="b" x="238" y="89.6">81329</text><text class="p" x="238" y="102.6">0.00%</text></g>
<g id="m98" transform="translate(271 3589.7)"><use href="#grid"/><use href="#pBY"/><text class="n" x=".5" y="-7.5">98</text><text class="a" x="238" y="76.6">109</text><text class="b" x="238" y="89.6">82637</text><text class="p" x="238" y="102.6">0.00%</text></g>
<g id="m99" transform="translate(510.7 3589.7)"><use href="#grid"/><use href="#pRA"/><text class="n" x=".5" y="-7.5">99</text><text class="a" x="238" y="76.6">165</text><text class="b" x="238" y="89.6">84467</text><text class="p" x="238" y="102.6">0.00%</text></g>
<g id="m100" transform="translate(750.4 3589.7)"><use href="#grid"/><use href="#pBY"/><text class="n" x=".5" y="-7.5">100</text><text class="a" x="238" y="76.6">109</text><text class="b" x="238" y="89.6">85121</text><text class="p" x="238" y="102.6">0.00%</text></g>
<rect class="ov" x="31.3" y="3589.7" width="654.5" height="60"/>
<rect class="pk" x="685.8" y="3589.7" width="5.9" height="60"/>
</g>

<g id="row25">
<rect class="yb" x="31.3" y="3720.2" width="209.7" height="81"/>
<g id="m101" transform="translate(31.3 3730.7)"><use href="#grid"/><use href="#pRAs"/><text class="n" x=".5" y="-7.5">101</text><text class="a" x="238" y="76.6">165</text><text class="b" x="238" y="89.6">86111</text><text class="p" x="238" y="102.6">29.25%</text></g>
<g id="m102" transform="translate(271 3730.7)"><use href="#grid"/><use href="#pBY"/><text class="n" x=".5" y="-7.5">102</text><text class="a" x="238" y="76.6">109</text><text class="b" x="238" y="89.6">86765</text><text class="p" x="238" y="102.6">29.25%</text></g>
<g id="m103" transform="translate(510.7 3730.7)"><use href="#grid"/><use href="#pRA"/><text class="n" x=".5" y="-7.5">103</text><text class="a" x="238" y="76.6">165</text><text class="b" x="238" y="89.6">88505</text><text class="p" x="238" y="102.6">21.64%</text></g>
<g id="m104" transform="translate(750.4 3730.7)"><use href="#grid"/><use href="#pBY"/><text class="n" x=".5" y="-7.5">104</text><text class="a" x="238" y="76.6">109</text><text class="b" x="238" y="89.6">89813</text><text class="p" x="238" y="102.6">9.14%</text></g>
<rect class="sp" x="31.3" y="3730.7" width="209.7" height="60"/>
<rect class="pk" x="601" y="3730.7" width="2.5" height="60"/>
<rect class="ov" x="603.5" y="3730.7" width="386.6" height="60"/>
</g>

<g id="row26">
<g id="m105" transform="translate(31.3 3871.7)"><use href="#grid"/><use href="#pRA"/><text class="n" x=".5" y="-7.5">105</text><text class="a" x="238" y="76.6">165</text><text class="b" x="238" y="89.6">91793</text><text class="p" x="238" y="102.6">0.00%</text></g>
<g id="m106" transform="translate(271 3871.7)"><use href="#grid"/><use href="#pBY"/><text class="n" x=".5" y="-7.5">106</text><text class="a" x="238" y="76.6">109</text><text class="b" x="238" y="89.6">93101</text><text class="p" x="238" y="102.6">0.00%</text></g>
<g id="m107" transform="translate(510.7 3871.7)"><use href="#grid"/><use href="#pRA"/><text class="n" x=".5" y="-7.5">107</text><text class="a" x="238" y="76.6">165</text><text class="b" x="238" y="89.6">94931</text><text class="p" x="238" y="102.6">0.00%</text></g>
<g id="m108" transform="translate(750.4 3871.7)"><use href="#grid"/><use href="#pBYR"/><text class="n" x=".5" y="-7.5">108</text><text class="a" x="238" y="76.6">75</text><text class="b" x="238" y="89.6">95381</text><text class="p" x="238" y="102.6">0.00%</text></g>
<rect class="ov" x="31.3" y="3871.7" width="654.5" height="60"/>
<rect class="pk" x="685.8" y="3871.7" width="5.9" height="60"/>
</g>

<g id="row27">
<g id="m109" transform="translate(31.3 4012.7)"><use href="#grid"/><use href="#pA"/><text class="n" x=".5" y="-7.5">109</text><text class="a" x="238" y="76.6">125</text><text class="b" x="238" y="89.6">96131</text><text class="p" x="238" y="102.6">0.00%</text></g>
<g id="m110" transform="translate(271 4012.7)"><use href="#grid"/><use href="#pBY"/><text class="n" x=".5" y="-7.5">110</text><text class="a" x="238" y="76.6">109</text><text class="b" x="238" y="89.6">96785</text><text class="p" x="238" y="102.6">0.00%</text></g>
<g id="m111" transform="translate(510.7 4012.7)"><use href="#grid"/><use href="#pRA"/><text class="n" x=".5" y="-7.5">111</text><text class="a" x="238" y="76.6">165</text><text class="b" x="238" y="89.6">97775</text><text class="p" x="238" y="102.6">0.00%</text></g>
<g id="m112" transform="translate(750.4 4012.7)"><use href="#grid"/><use href="#pBY"/><text class="n" x=".5" y="-7.5">112</text><text class="a" x="238" y="76.6">109</text><text class="b" x="238" y="89.6">98429</text><text class="p" x="238" y="102.6">0.00%</text></g>
</g>

<g id="row28">
<g id="m113" transform="translate(31.3 4153.7)"><use href="#grid"/><use href="#pRA"/><text class="n" x=".5" y="-7.5">113</text><text class="a" x="238" y="76.6">165</text><text class="b" x="238" y="89.6">99419</text><text class="p" x="238" y="102.6">0.00%</text></g>
<g id="m114" transform="translate(271 4153.7)"><use href="#grid"/><use href="#pBY"/><text class="n" x=".5" y="-7.5">114</text><text class="a" x="238" y="76.6">109</text><text class="b" x="238" y="89.6">100073</text><text class="p" x="238" y="102.6">0.00%</text></g>
<g id="m115" transform="translate(510.7 4153.7)"><use href="#grid"/><use href="#pRA"/><text class="n" x=".5" y="-7.5">115</text><text class="a" x="238" y="76.6">165</text><text class="b" x="238" y="89.6">101063</text><text class="p" x="238" y="102.6">0.00%</text></g>
<g id="m116" transform="translate(750.4 4153.7)"><use href="#grid"/><use href="#c" class="B" y="45"/><use href="#c" class="Y" x="120" y="30"/><rect class="G" x="180" y="-3.3" width="59.7" height="6.6"/><use href="#c" class="G" x="180"/><text class="n" x=".5" y="-7.5">116</text><text class="a" x="238" y="76.6">87</text><text class="b" x="238" y="89.6">101585</text><text class="p" x="238" y="102.6">0.00%</text></g>
</g>

<g id="row29">
<g id="m117" transform="translate(31.3 4294.7)"><use href="#grid"/><text class="n" x=".5" y="-7.5">117</text><text class="a" x="238" y="76.6">0</text><text class="b" x="238" y="89.6">101585</text><text class="p" x="238" y="102.6">0.00%</text></g>
</g>
</g>
</svg>
